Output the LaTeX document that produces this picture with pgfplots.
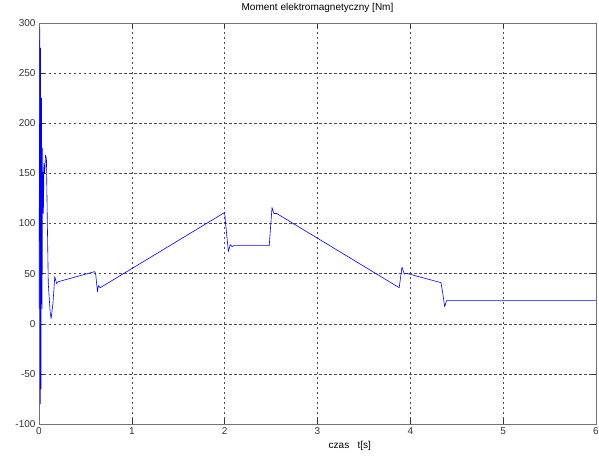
\documentclass[border=0pt]{standalone}
\usepackage{pgfplots}
\pgfplotsset{compat=1.18}
\usepackage{fontspec}
\setmainfont{Liberation Sans}
\begin{document}
\begin{tikzpicture}[x=1pt,y=1pt]
\path[use as bounding box] (-39,-35) rectangle (560,424);
\begin{axis}[
  at={(0,0)}, anchor=south west,
  scale only axis,
  width=557pt, height=401pt,
  xmin=0, xmax=6, ymin=-100, ymax=300,
  xtick={0,1,2,3,4,5,6},
  ytick={-100,-50,0,50,100,150,200,250,300},
  grid=major,
  major grid style={black!70, line width=0.5pt, dash pattern=on 2.5pt off 2.5pt},
  tick align=inside,
  tick pos=both,
  major tick length=5pt,
  tick style={black!80, line width=0.5pt},
  axis line style={black!55, line width=0.6pt},
  /pgf/number format/assume math mode=true,
  ticklabel style={font=\fontsize{10}{12}\selectfont, text=black!80},
  title={Moment elektromagnetyczny [Nm]},
  title style={font=\fontsize{10}{12}\selectfont, at={(axis description cs:0.5,1)}, anchor=south, yshift=1pt},
  xlabel={czas\ \ \ t[s]},
  xlabel style={font=\fontsize{10}{12}\selectfont, at={(axis description cs:0.558,0)}, anchor=north, yshift=-14pt},
  ylabel={},
]
\addplot[blue, line width=0.6pt, line join=round] coordinates {
(0,15) (0.009,295) (0.014,-80) (0.017,275) (0.022,-65) (0.027,225) (0.033,15)
(0.040,175) (0.047,110) (0.055,160) (0.062,150) (0.070,168) (0.080,165)
(0.090,100) (0.100,40) (0.120,12) (0.130,5) (0.150,20) (0.170,47) (0.190,40)
(0.210,42) (0.600,52) (0.610,50) (0.630,32) (0.640,38) (0.660,36)
(2.000,111) (2.010,100) (2.040,72) (2.060,79) (2.080,77) (2.100,78) (2.480,78)
(2.510,116) (2.530,110) (2.560,110) (3.880,36) (3.910,56.5) (3.935,49.5) (3.950,50.5)
(4.330,41) (4.350,30) (4.370,17) (4.390,23) (4.400,23) (6,23)
};
\end{axis}
\end{tikzpicture}
\end{document}
